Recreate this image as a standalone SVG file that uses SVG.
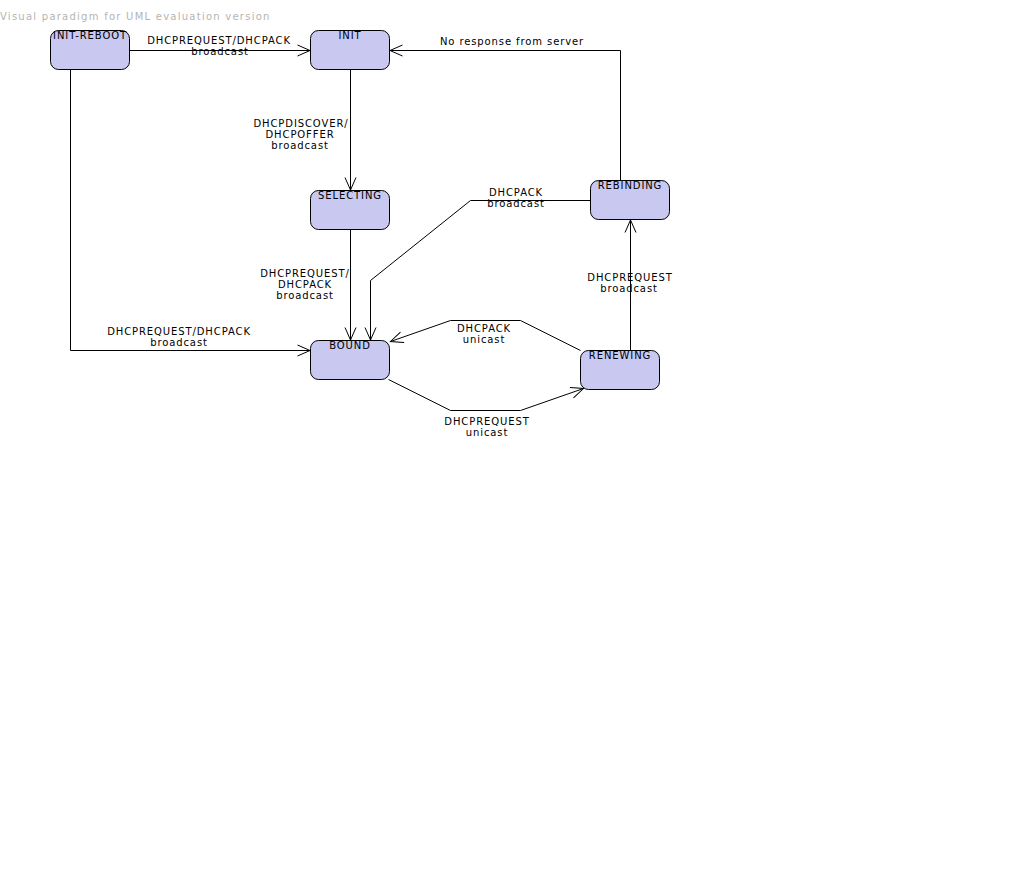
<svg xmlns="http://www.w3.org/2000/svg" width="1018" height="884" viewBox="0 0 1018 884">
<style>
.node rect{fill:#c8c8f0;stroke:#000;stroke-width:1}
.conn path{fill:none;stroke:#000;stroke-width:1}
text{font-family:"DejaVu Sans","Liberation Sans",sans-serif;font-size:10px;fill:#000;letter-spacing:0.9px;text-anchor:middle}
.title{fill:#b4b4b4;letter-spacing:1.25px;text-anchor:start}
</style>
<defs>
<marker id="arr" markerUnits="userSpaceOnUse" viewBox="-14 -8 16 16" markerWidth="16" markerHeight="16" refX="0" refY="0" orient="auto" overflow="visible">
<path d="M-12.5,-5.5 L0,0 L-12.5,5.5" fill="none" stroke="#000" stroke-width="1"/>
</marker>
</defs>
<rect width="1018" height="884" fill="#fff"/>
<text class="title" x="0" y="20">Visual paradigm for UML evaluation version</text>
<g class="conn" transform="translate(0.5,0.5)">
<path d="M129,50 H309.5" marker-end="url(#arr)"/>
<path d="M350,69 V189.5" marker-end="url(#arr)"/>
<path d="M350,229 V339.5" marker-end="url(#arr)"/>
<path d="M70,69 V350 H309.5" marker-end="url(#arr)"/>
<path d="M590,200 H470 L370,280 V339.5" marker-end="url(#arr)"/>
<path d="M620,180 V50 H389.5" marker-end="url(#arr)"/>
<path d="M630,350 V219.5" marker-end="url(#arr)"/>
<path d="M580,350 L520,320 H450 L390,341" marker-end="url(#arr)"/>
<path d="M388,379 L450,410 H520 L583,388" marker-end="url(#arr)"/>
</g>
<g id="n-init-reboot" class="node"><rect x="50.5" y="30.5" width="79" height="39" rx="8"/><text x="90" y="39">INIT-REBOOT</text></g>
<g id="n-init" class="node"><rect x="310.5" y="30.5" width="79" height="39" rx="8"/><text x="350" y="39">INIT</text></g>
<g id="n-selecting" class="node"><rect x="310.5" y="190.5" width="79" height="39" rx="8"/><text x="350" y="199">SELECTING</text></g>
<g id="n-rebinding" class="node"><rect x="590.5" y="180.5" width="79" height="39" rx="8"/><text x="630" y="189">REBINDING</text></g>
<g id="n-bound" class="node"><rect x="310.5" y="340.5" width="79" height="39" rx="8"/><text x="350" y="349">BOUND</text></g>
<g id="n-renewing" class="node"><rect x="580.5" y="350.5" width="79" height="39" rx="8"/><text x="620" y="359">RENEWING</text></g>
<g id="labels">
<text x="219" y="44">DHCPREQUEST/DHCPACK</text>
<text x="220" y="55">broadcast</text>
<text x="301" y="127">DHCPDISCOVER/</text>
<text x="300" y="138">DHCPOFFER</text>
<text x="300" y="149">broadcast</text>
<text x="305" y="277">DHCPREQUEST/</text>
<text x="305" y="288">DHCPACK</text>
<text x="305" y="299">broadcast</text>
<text x="179" y="335">DHCPREQUEST/DHCPACK</text>
<text x="179" y="346">broadcast</text>
<text x="516" y="196">DHCPACK</text>
<text x="516" y="207">broadcast</text>
<text x="512" y="45">No response from server</text>
<text x="630" y="281">DHCPREQUEST</text>
<text x="629" y="292">broadcast</text>
<text x="484" y="332">DHCPACK</text>
<text x="484" y="343">unicast</text>
<text x="487" y="425">DHCPREQUEST</text>
<text x="487" y="436">unicast</text>
</g>
</svg>
